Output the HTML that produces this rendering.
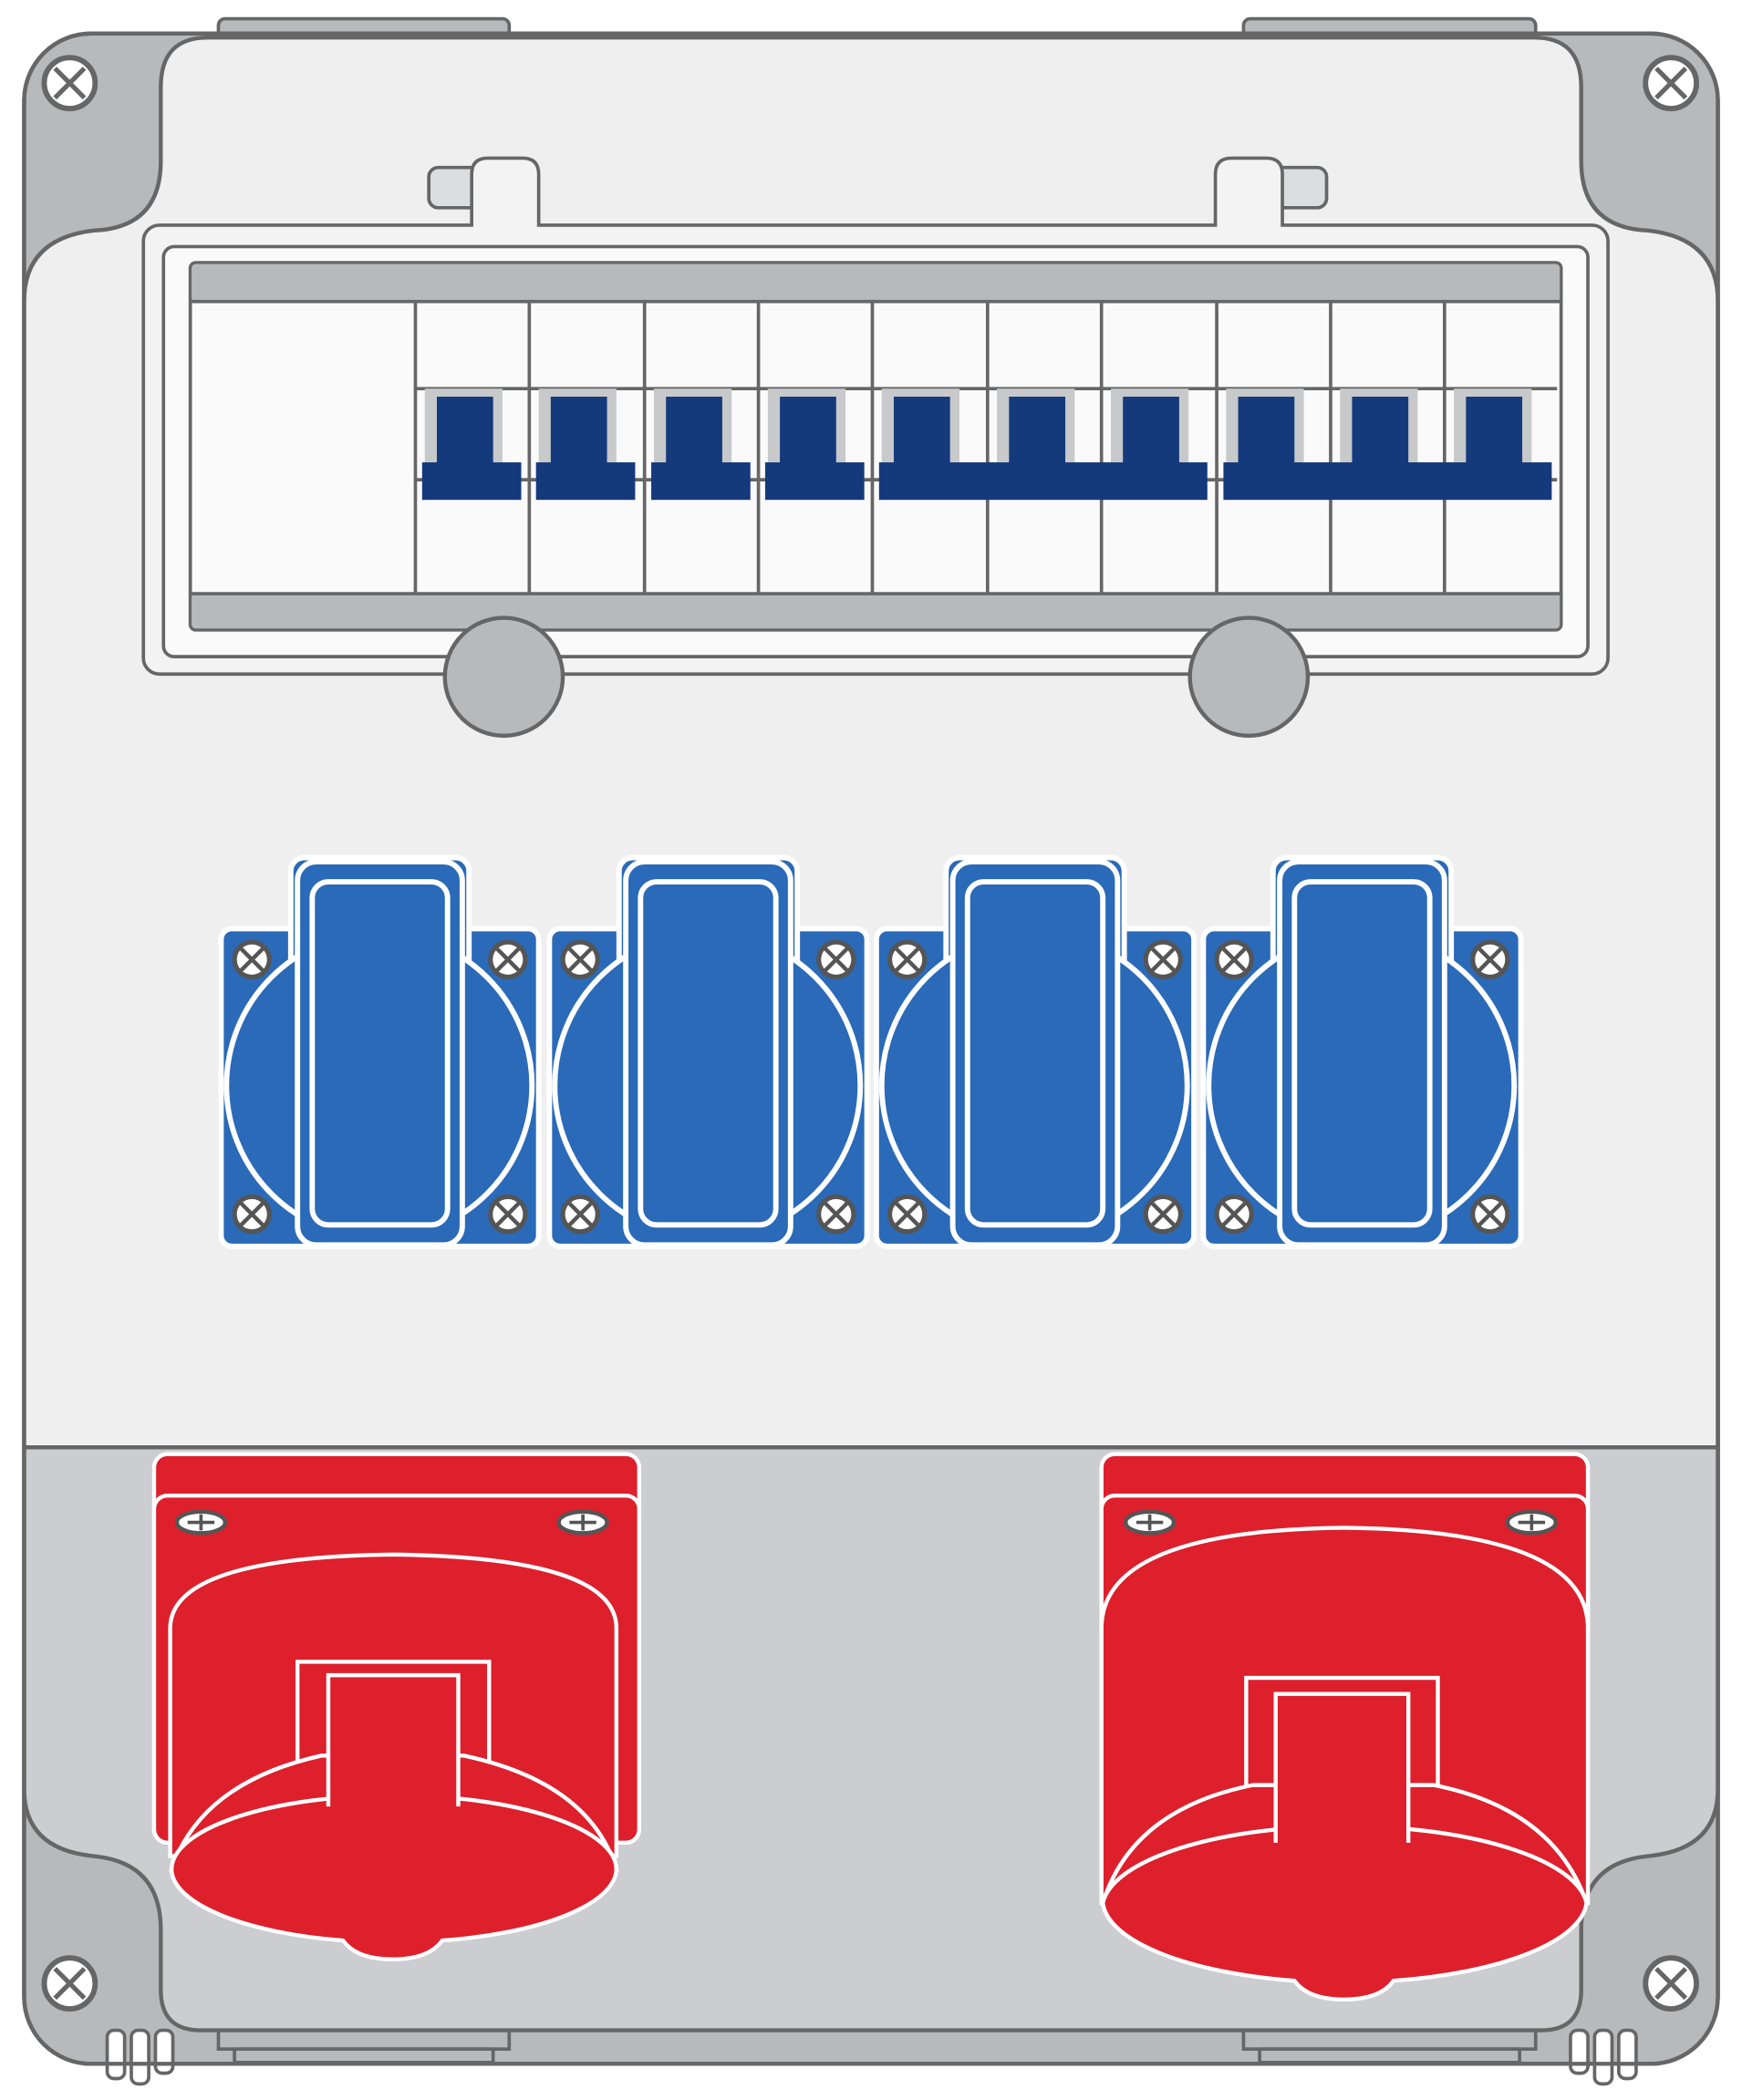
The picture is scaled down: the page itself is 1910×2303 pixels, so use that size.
<!DOCTYPE html>
<html><head><meta charset="utf-8"><style>html,body{margin:0;padding:0;background:#fff}svg{display:block}</style></head>
<body>
<svg width="1910" height="2303" viewBox="0 0 1300 1567" preserveAspectRatio="none" xmlns="http://www.w3.org/2000/svg">
<defs>
<g id="scr"><circle r="19" fill="#fff" stroke="#666" stroke-width="4"/><path d="M-11,-11L11,11M11,-11L-11,11" stroke="#666" stroke-width="3.5"/></g>
<g id="bscr"><circle r="13" fill="#fff" stroke="#555" stroke-width="3.5"/><path d="M-8,-8L8,8M8,-8L-8,8" stroke="#555" stroke-width="3"/></g>
<g id="sock">
<rect x="0" y="53" width="237" height="237" rx="8" fill="#2a6ab8" stroke="#fff" stroke-width="4"/>
<rect x="52" y="0" width="133" height="100" rx="10" fill="#2a6ab8" stroke="#fff" stroke-width="4"/>
<circle cx="118" cy="170" r="114" fill="#2a6ab8" stroke="#fff" stroke-width="4"/>
<rect x="57" y="3" width="123" height="286" rx="14" fill="#2a6ab8" stroke="#fff" stroke-width="4"/>
<rect x="68" y="18" width="101" height="256" rx="12" fill="#2a6ab8" stroke="#fff" stroke-width="4"/>
<use href="#bscr" x="23" y="76"/><use href="#bscr" x="214" y="76"/>
<use href="#bscr" x="23" y="266"/><use href="#bscr" x="214" y="266"/>
</g>
<g id="mod">
<rect x="7" y="290" width="58" height="56" fill="#c8c9cb"/>
<rect x="16" y="296" width="42" height="52" fill="#143a7c"/>
</g>
</defs>
<rect x="18" y="25" width="1264" height="1515" rx="50" fill="#b8b9bb" stroke="#666" stroke-width="3"/>
<rect x="163" y="14" width="217" height="14" rx="5" fill="#b8b9bb" stroke="#666" stroke-width="2.5"/>
<rect x="928" y="14" width="218" height="14" rx="5" fill="#b8b9bb" stroke="#666" stroke-width="2.5"/>
<rect x="163" y="1513" width="217" height="16" fill="#b8b9bb" stroke="#666" stroke-width="2.5"/>
<rect x="175" y="1529" width="193" height="10" fill="#b8b9bb" stroke="#666" stroke-width="2.5"/>
<rect x="928" y="1513" width="218" height="16" fill="#b8b9bb" stroke="#666" stroke-width="2.5"/>
<rect x="940" y="1529" width="194" height="10" fill="#b8b9bb" stroke="#666" stroke-width="2.5"/>
<rect x="80" y="1515" width="13" height="36" rx="5" fill="#fff" stroke="#666" stroke-width="2.5"/>
<rect x="98" y="1515" width="13" height="40" rx="5" fill="#fff" stroke="#666" stroke-width="2.5"/>
<rect x="116" y="1515" width="13" height="32" rx="5" fill="#fff" stroke="#666" stroke-width="2.5"/>
<rect x="1172" y="1515" width="13" height="32" rx="5" fill="#fff" stroke="#666" stroke-width="2.5"/>
<rect x="1190" y="1515" width="13" height="40" rx="5" fill="#fff" stroke="#666" stroke-width="2.5"/>
<rect x="1208" y="1515" width="13" height="36" rx="5" fill="#fff" stroke="#666" stroke-width="2.5"/>
<clipPath id="pc"><path id="pp" d="M120,65 Q120,28 155,28 H1145 Q1180,28 1180,65 V120 Q1180,170 1230,172 Q1282,178 1282,225 V1335 Q1282,1380 1230,1385 Q1180,1390 1180,1440 V1485 Q1180,1515 1150,1515 H150 Q120,1515 120,1485 V1440 Q120,1390 70,1385 Q18,1380 18,1335 V225 Q18,178 70,172 Q120,170 120,120 Z"/></clipPath>
<use href="#pp" fill="#efefef"/>
<rect x="0" y="1080" width="1300" height="500" fill="#cbcdd0" clip-path="url(#pc)"/>
<use href="#pp" fill="none" stroke="#666" stroke-width="3"/>
<line x1="18" y1="1080" x2="1282" y2="1080" stroke="#666" stroke-width="3"/>
<rect x="18" y="25" width="1264" height="1515" rx="50" fill="none" stroke="#666" stroke-width="3"/>
<use href="#scr" x="52" y="62"/><use href="#scr" x="1247" y="62"/>
<use href="#scr" x="52" y="1480"/><use href="#scr" x="1247" y="1480"/>
<rect x="320" y="125" width="38" height="30" rx="7" fill="#dcdde0" stroke="#666" stroke-width="2.5"/>
<rect x="950" y="125" width="40" height="30" rx="7" fill="#dcdde0" stroke="#666" stroke-width="2.5"/>
<rect x="107" y="168" width="1093" height="335" rx="12" fill="#f3f3f3" stroke="#666" stroke-width="2.5"/>
<rect x="353.5" y="160" width="47" height="12" fill="#f3f3f3"/>
<rect x="908.5" y="160" width="47" height="12" fill="#f3f3f3"/>
<path d="M352,169 V130 Q352,118 364,118 H390 Q402,118 402,130 V169" fill="#f3f3f3" stroke="#666" stroke-width="2.5"/>
<path d="M907,169 V130 Q907,118 919,118 H945 Q957,118 957,130 V169" fill="#f3f3f3" stroke="#666" stroke-width="2.5"/>
<rect x="122" y="184" width="1063" height="306" rx="8" fill="#fafafa" stroke="#666" stroke-width="2.5"/>
<rect x="142" y="196" width="1023" height="274" rx="4" fill="#fafafa" stroke="#666" stroke-width="2.5"/>
<rect x="143" y="197" width="1021" height="28" rx="3" fill="#b8b9bb"/>
<line x1="143" y1="225" x2="1164" y2="225" stroke="#666" stroke-width="2.5"/>
<rect x="143" y="443" width="1021" height="26" rx="3" fill="#b8b9bb"/>
<line x1="143" y1="443" x2="1164" y2="443" stroke="#666" stroke-width="2.5"/>
<line x1="310" y1="290" x2="1162" y2="290" stroke="#666" stroke-width="2.5"/>
<line x1="310" y1="358" x2="1162" y2="358" stroke="#666" stroke-width="2.5"/>
<g stroke="#666" stroke-width="2.5">
<line x1="310" y1="225" x2="310" y2="443"/><line x1="395" y1="225" x2="395" y2="443"/><line x1="481" y1="225" x2="481" y2="443"/><line x1="566" y1="225" x2="566" y2="443"/><line x1="651" y1="225" x2="651" y2="443"/><line x1="737" y1="225" x2="737" y2="443"/><line x1="822" y1="225" x2="822" y2="443"/><line x1="908" y1="225" x2="908" y2="443"/><line x1="993" y1="225" x2="993" y2="443"/><line x1="1078" y1="225" x2="1078" y2="443"/>
</g>
<use href="#mod" x="310"/><use href="#mod" x="395"/><use href="#mod" x="481"/><use href="#mod" x="566"/><use href="#mod" x="651"/><use href="#mod" x="737"/><use href="#mod" x="822"/><use href="#mod" x="908"/><use href="#mod" x="993"/><use href="#mod" x="1078"/>
<g fill="#143a7c">
<rect x="315" y="345" width="74" height="28"/><rect x="400" y="345" width="74" height="28"/><rect x="486" y="345" width="74" height="28"/><rect x="571" y="345" width="74" height="28"/>
<rect x="656" y="345" width="245" height="28"/><rect x="913" y="345" width="245" height="28"/>
</g>
<circle cx="376" cy="505" r="44" fill="#b8b9bb" stroke="#666" stroke-width="3"/>
<circle cx="932" cy="505" r="44" fill="#b8b9bb" stroke="#666" stroke-width="3"/>
<use href="#sock" x="165" y="640"/><use href="#sock" x="410" y="640"/><use href="#sock" x="654" y="640"/><use href="#sock" x="898" y="640"/>
<g stroke="#fff" stroke-width="3">
<rect x="115" y="1085" width="362" height="290" rx="10" fill="#de1f2c"/>
<rect x="115" y="1116" width="362" height="259" rx="10" fill="#de1f2c"/>
<path d="M127,1385 V1215 Q127,1162 293,1160 Q460,1162 460,1215 V1385 Z" fill="#de1f2c"/>
<rect x="222" y="1240" width="143" height="110" fill="#de1f2c"/>
<path d="M128,1395 Q150,1330 240,1310 H346 Q440,1330 460,1395 Z" fill="#de1f2c"/>
<path d="M128,1395 A165,55 0 0 1 460,1395 A165,55 0 0 1 330,1448 Q320,1462 293,1462 Q266,1462 256,1448 A165,55 0 0 1 128,1395 Z" fill="#de1f2c"/>
<path d="M245,1348 V1250 H342 V1348" fill="#de1f2c"/>
</g>
<g stroke="#fff" stroke-width="3">
<rect x="822" y="1085" width="363" height="300" rx="10" fill="#de1f2c"/>
<rect x="822" y="1116" width="363" height="269" rx="10" fill="#de1f2c"/>
<path d="M822,1420 V1215 Q822,1142 1003,1140 Q1185,1142 1185,1215 V1420 Z" fill="#de1f2c"/>
<rect x="930" y="1252" width="143" height="110" fill="#de1f2c"/>
<path d="M823,1420 Q845,1350 935,1332 H1070 Q1160,1350 1184,1420 Z" fill="#de1f2c"/>
<path d="M823,1420 A181,62 0 0 1 1184,1420 A181,62 0 0 1 1040,1478 Q1030,1492 1003,1492 Q976,1492 966,1478 A181,62 0 0 1 823,1420 Z" fill="#de1f2c"/>
<path d="M952,1375 V1264 H1051 V1375" fill="#de1f2c"/>
</g>
<g fill="#fff" stroke="#555" stroke-width="3">
<ellipse cx="150" cy="1136" rx="18" ry="8"/><ellipse cx="435" cy="1136" rx="18" ry="8"/>
<ellipse cx="858" cy="1136" rx="18" ry="8"/><ellipse cx="1143" cy="1136" rx="18" ry="8"/>
</g>
<g stroke="#555" stroke-width="2.5">
<path d="M140,1136H160M150,1130V1142M425,1136H445M435,1130V1142M848,1136H868M858,1130V1142M1133,1136H1153M1143,1130V1142"/>
</g>
</svg>
</body></html>
